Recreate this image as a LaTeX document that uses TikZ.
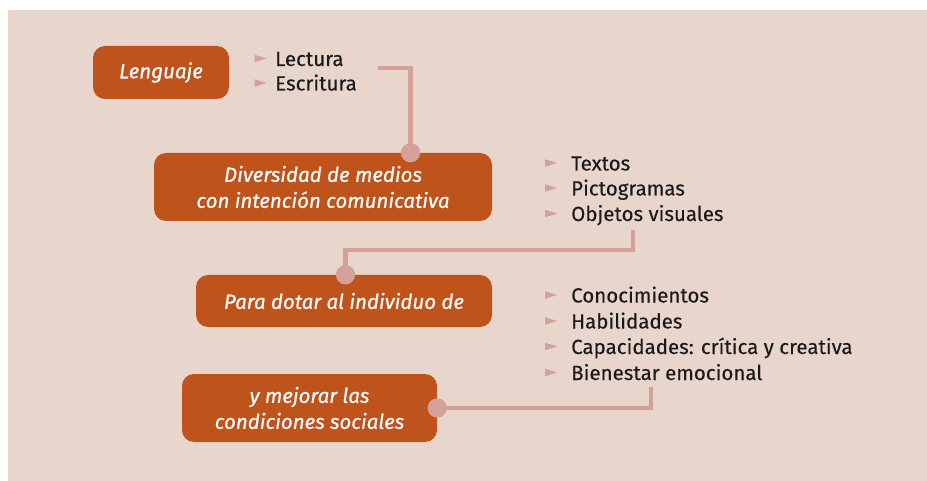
\documentclass[tikz,border=0pt]{standalone}
\usepackage{fontspec}
\setmainfont{Fira Sans}
\newfontfamily\boxfont{Fira Sans}[FakeBold=0.6]
\newfontfamily\listfont{Fira Sans}[FakeBold=0.25]
\definecolor{panel}{HTML}{E8D6CD}
\definecolor{boxc}{HTML}{BF531C}
\definecolor{conn}{HTML}{D4A097}
\definecolor{txt}{HTML}{1A1A1A}
\tikzset{
  mbox/.style={fill=boxc, rounded corners=12pt, text=white, align=center,
    font=\fontsize{20.5}{26}\boxfont\itshape, inner sep=0pt},
  item/.style={anchor=base west, inner sep=0pt, text=txt,
    font=\fontsize{20.5}{24}\listfont},
  link/.style={draw=conn, line width=4.5pt},
  dot/.style={circle, fill=conn, minimum size=19pt, inner sep=0pt},
}
% name, x, y, text, gap between bullet tip and text
\newcommand{\bulitem}[5]{%
  \node[item] (#1) at (#2,#3) {#4};
  \fill[conn] ([xshift=-#5pt,yshift=7.5pt]#1.base west) -- ++(-12pt,3.8pt) -- ++(0,-7.6pt) -- cycle;
}
\begin{document}
\begin{tikzpicture}[x=1pt,y=-1pt]
\fill[white] (0,0) rectangle (927,481);
\useasboundingbox (0,0) rectangle (927,481);
\fill[panel] (8,10) rectangle (927,481);

% boxes
\node[mbox, minimum width=136pt, minimum height=53pt] (lang) at (161,72.5) {Lenguaje};
\node[mbox, minimum width=338pt, minimum height=68pt] (div) at (323,187) {Diversidad de medios\\con intención comunicativa};
\node[mbox, minimum width=296pt, minimum height=52pt] (para) at (344,301) {Para dotar al individuo de};
\node[mbox, minimum width=255pt, minimum height=68pt] (mej) at (309.5,408) {y mejorar las\\condiciones sociales};

% lists
\bulitem{lec}{275}{66}{Lectura}{8.5}
\bulitem{esc}{275}{90.5}{Escritura}{8.5}
\bulitem{tex}{571}{170.5}{Textos}{14}
\bulitem{pic}{571}{195.5}{Pictogramas}{14}
\bulitem{obj}{571}{221}{Objetos visuales}{14}
\bulitem{con}{571}{302.5}{Conocimientos}{14}
\bulitem{hab}{571}{328.5}{Habilidades}{14}
\bulitem{cap}{571}{354}{Capacidades: crítica y creativa}{14}
\bulitem{bie}{571}{380}{Bienestar emocional}{14}

% connectors
\coordinate (s1) at (377.5,68);
\node[dot] (d1) at (div.north -| 410.5,0) {};
\draw[link] (s1) -| (d1.center);

\coordinate (s2) at (633,230.5);
\node[dot] (d2) at (para.north -| 345.5,0) {};
\coordinate (m2) at (345.5,250);
\draw[link] (s2) |- (m2) -- (d2.center);

\coordinate (s3) at (651,386.5);
\node[dot] (d3) at (mej.east) {};
\draw[link] (s3) |- (d3.center);
\node[dot] at (d1) {};
\node[dot] at (d2) {};
\node[dot] at (d3) {};
\end{tikzpicture}
\end{document}
